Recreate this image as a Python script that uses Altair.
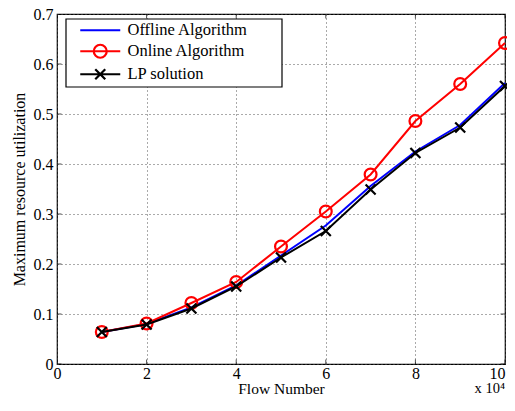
import altair as alt
import pandas as pd

flows = [1, 2, 3, 4, 5, 6, 7, 8, 9, 10]
offline = [0.064, 0.080, 0.113, 0.157, 0.217, 0.277, 0.356, 0.425, 0.478, 0.562]
online = [0.064, 0.081, 0.122, 0.164, 0.235, 0.305, 0.379, 0.486, 0.560, 0.642]
lp = [0.064, 0.079, 0.111, 0.155, 0.213, 0.266, 0.349, 0.422, 0.473, 0.556]
series_names = ["Offline Algorithm", "Online Algorithm", "LP solution"]
series_colors = ["#0000ff", "#ff0000", "#000000"]
x_ticks = [0, 2, 4, 6, 8, 10]
y_ticks = [0, 0.1, 0.2, 0.3, 0.4, 0.5, 0.6, 0.7]
x_domain = [0, 10]
y_domain = [0, 0.7]

rows = []
for name, vals in zip(series_names, [offline, online, lp]):
    for f, v in zip(flows, vals):
        rows.append({"flow": f, "value": v, "series": name})
df = pd.DataFrame(rows)

FONT = "Liberation Serif"
xs = alt.Scale(domain=x_domain, nice=False, zero=False)
ys = alt.Scale(domain=y_domain, nice=False, zero=False)
color_scale = alt.Scale(domain=series_names, range=series_colors)
marker_scale = alt.Scale(domain=series_names,
                         range=["M0,0", "circle", "M-1,-1L1,1M-1,1L1,-1"])
legend_shapes = alt.Scale(domain=series_names, range=[
    "M-4,0L4,0",
    "M-4,0L4,0M1.3,0A1.3,1.3 0 1,1 -1.3,0A1.3,1.3 0 1,1 1.3,0",
    "M-4,0L4,0M-1,-1L1,1M-1,1L1,-1",
])

x_main = alt.X("flow:Q", scale=xs, axis=alt.Axis(
    values=x_ticks, format="d", title="Flow Number", grid=True, ticks=False,
    domain=False, labelPadding=1, titlePadding=0, titleFontSize=15.5,
    labelAlign={"expr": "datum.value == 10 ? 'right' : 'center'"}))
y_main = alt.Y("value:Q", scale=ys, axis=alt.Axis(
    values=y_ticks, format="~g", title="Maximum resource utilization", grid=True,
    ticks=False, domain=False, labelPadding=4, titlePadding=6))
x_plain = alt.X("flow:Q", scale=xs)
y_plain = alt.Y("value:Q", scale=ys)

base = alt.Chart(df)
layers = []
first = True
for name in series_names:
    sub = base.transform_filter(alt.datum.series == name)
    xe = x_main if first else x_plain
    ye = y_main if first else y_plain
    first = False
    layers.append(sub.mark_line(strokeWidth=2).encode(
        x=xe, y=ye,
        color=alt.Color("series:N", scale=color_scale, legend=None)))
    if name != "Offline Algorithm":
        size = 140 if name == "Online Algorithm" else 100
        layers.append(sub.mark_point(filled=False, strokeWidth=2.2, size=size, opacity=1).encode(
            x=x_plain, y=y_plain,
            color=alt.Color("series:N", scale=color_scale, legend=None),
            shape=alt.Shape("series:N", scale=marker_scale, legend=None)))

xt_rows = [{"flow": v, "value": yy} for v in x_ticks for yy in y_domain]
yt_rows = [{"flow": xx, "value": v} for v in y_ticks for xx in x_domain]
xtick_layer = alt.Chart(pd.DataFrame(xt_rows)).mark_tick(
    orient="vertical", size=9, thickness=1, color="black", clip=True).encode(
    x=x_plain, y=y_plain)
ytick_layer = alt.Chart(pd.DataFrame(yt_rows)).mark_tick(
    orient="horizontal", size=9, thickness=1, color="black", clip=True).encode(
    x=x_plain, y=y_plain)
layers = layers + [xtick_layer, ytick_layer]

# legend frame (decoration)
legend_box = alt.Chart(pd.DataFrame({"box": [0]})).mark_rect(
    fill="white", stroke="black", strokeWidth=1.2).encode(
    x=alt.value(9), x2=alt.value(225), y=alt.value(5), y2=alt.value(73))
layers.append(legend_box)

legend_layer = base.transform_filter("false").mark_point(
    filled=False, strokeWidth=2.2, size=100, opacity=1).encode(
    color=alt.Color("series:N", scale=color_scale, legend=alt.Legend(title=None)),
    shape=alt.Shape("series:N", scale=legend_shapes, legend=alt.Legend(title=None)))
layers.append(legend_layer)

chart = alt.layer(*layers).resolve_scale(
    color="independent", shape="independent"
).properties(
    width=448, height=350,
    autosize=alt.AutoSizeParams(type="none"),
    padding={"left": 49, "top": 6, "right": 2, "bottom": 31},
    title=alt.TitleParams(text="x 10\u2074", orient="bottom", anchor="end",
                          frame="group", font=FONT, fontSize=14.5,
                          fontWeight="normal", color="black", offset=-15),
).configure_view(
    stroke="black", strokeWidth=1.2
).configure_axis(
    labelFont=FONT, labelFontSize=16, labelColor="black",
    titleFont=FONT, titleFontSize=16, titleFontWeight="normal", titleColor="black",
    gridColor="#555555", gridDash=[1, 3], gridWidth=1, gridOpacity=1,
).configure_legend(
    orient="none", legendX=9, legendY=5, padding=3,
    labelFont=FONT, labelFontSize=16.5, labelColor="black", labelLimit=400,
    symbolStrokeWidth=2.2, symbolOffset=23, labelOffset=19, rowPadding=1,
)

chart.save("out.html", embed_options={"renderer": "svg", "actions": False})
